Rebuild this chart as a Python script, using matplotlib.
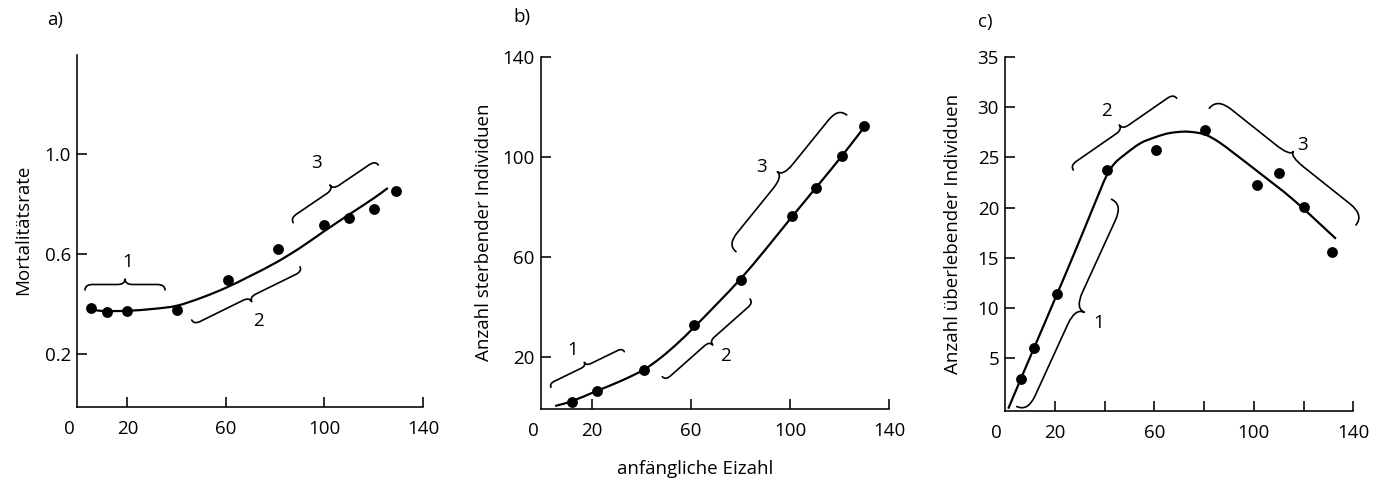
import numpy as np
import matplotlib
matplotlib.use('Agg')
import matplotlib.pyplot as plt
from matplotlib.path import Path
from matplotlib.patches import PathPatch
from matplotlib.transforms import Affine2D, ScaledTranslation

plt.rcParams['font.family'] = ['Open Sans', 'DejaVu Sans']

# ---------------- data ----------------
# a) mortality rate vs. initial egg number
eggs_a = [5.3, 11.5, 19.8, 40.0, 60.9, 81.3, 100.0, 110.1, 120.0, 129.0]
mort_a = [0.384, 0.369, 0.373, 0.375, 0.497, 0.620, 0.716, 0.742, 0.780, 0.852]
fit_a_x = [4.3, 10, 20, 30, 40, 50, 60, 70, 80, 90, 100, 110, 120, 125.7]
fit_a_y = [0.381, 0.372, 0.373, 0.380, 0.393, 0.425, 0.465, 0.513, 0.564,
           0.624, 0.692, 0.758, 0.823, 0.864]

# b) number of dying individuals
eggs_b = [12.0, 22.2, 41.1, 61.3, 80.2, 100.6, 110.5, 120.8, 130.0]
dead_b = [2.3, 6.6, 14.9, 33.1, 51.0, 76.6, 87.8, 100.4, 112.5]
fit_b_x = [5.3, 12, 22, 32, 41, 48, 55, 61.3, 70, 80.2, 90, 100.6, 110.5,
           120.8, 130]
fit_b_y = [0.5, 2.4, 6.5, 10.6, 15.0, 19.9, 25.9, 32.0, 40.8, 51.5, 63.0,
           76.0, 87.9, 100.4, 112.2]

# c) number of surviving individuals
eggs_c = [6.2, 11.7, 20.9, 41.0, 60.8, 80.5, 101.1, 110.3, 120.3, 131.3]
surv_c = [2.96, 6.06, 11.45, 23.7, 25.7, 27.7, 22.2, 23.47, 20.1, 15.6]
fit_c_x = [1.2, 6.3, 11.6, 21, 28, 34, 38, 41, 44, 47.7, 54.4, 61, 66, 72,
           77, 81, 86, 92, 102.5, 116, 133]
fit_c_y = [0.0, 3.0, 6.06, 11.5, 15.6, 19.2, 21.6, 23.3, 24.4, 25.2, 26.4,
           27.05, 27.4, 27.55, 27.45, 27.2, 26.5, 25.4, 23.4, 20.75, 16.9]

xticks_a = [0, 20, 60, 100, 140]
xticks_b = [0, 20, 60, 100, 140]
xticks_c = [0, 20, 40, 60, 80, 100, 120, 140]
xticklabels_c = ['0', '20', '', '60', '', '100', '', '140']
yticks_a = [0.2, 0.6, 1.0]
yticklabels_a = ['0.2', '0.6', '1.0']
yticks_b = [20, 60, 100, 140]
yticks_c = [5, 10, 15, 20, 25, 30, 35]

ylabel_a = 'Mortalitätsrate'
ylabel_b = 'Anzahl sterbender Individuen'
ylabel_c = 'Anzahl überlebender Individuen'
xlabel = 'anfängliche Eizahl'

# ---------------- figure ----------------
W, H = 1376, 479
fig = plt.figure(figsize=(W / 100, H / 100), dpi=100)
pix = Affine2D().scale(1 / W, -1 / H).translate(0, 1) + fig.transFigure

FS = 13.5
LW_AX = 1.15


def add_axes(left, bottom, right, top):
    return fig.add_axes([left / W, 1 - bottom / H, (right - left) / W,
                         (bottom - top) / H])


def style(ax, xt, yt, xl=None, yl=None):
    for s in ('top', 'right'):
        ax.spines[s].set_visible(False)
    for s in ('left', 'bottom'):
        ax.spines[s].set_linewidth(LW_AX)
    ax.set_xticks(xt)
    ax.set_yticks(yt)
    xl = xl if xl is not None else [str(v) for v in xt]
    ax.set_xticklabels(xl)
    if yl is not None:
        ax.set_yticklabels(yl)
    ax.tick_params(direction='in', length=7, width=LW_AX, labelsize=FS)
    ax.tick_params(axis='x', pad=9.5)
    ax.tick_params(axis='y', pad=4.5)
    ticks = ax.xaxis.get_major_ticks()
    for t, v in zip(ticks, xt):
        if v == 0:
            t.tick1line.set_visible(False)
            lab = t.label1
            lab.set_transform(lab.get_transform() +
                              ScaledTranslation(-8.5 / 100, 0,
                                                fig.dpi_scale_trans))


def smooth_curve(ax, xs, ys, lw=1.6):
    """Draw a smooth (Catmull-Rom) line through the given curve points."""
    P = np.column_stack([xs, ys]).astype(float)
    n = len(P)
    verts = [tuple(P[0])]
    codes = [Path.MOVETO]
    for i in range(n - 1):
        p0 = P[i - 1] if i > 0 else P[i]
        p1, p2 = P[i], P[i + 1]
        p3 = P[i + 2] if i + 2 < n else P[i + 1]
        c1 = p1 + (p2 - p0) / 6.0
        c2 = p2 - (p3 - p1) / 6.0
        verts += [tuple(c1), tuple(c2), tuple(p2)]
        codes += [Path.CURVE4] * 3
    ax.add_patch(PathPatch(Path(verts, codes), fill=False, lw=lw,
                           edgecolor='black', capstyle='butt',
                           clip_on=False, zorder=2))


ax_a = add_axes(77, 407, 423, 55)
ax_b = add_axes(540.7, 409, 889.3, 57.3)
ax_c = add_axes(1005.3, 410.7, 1353.3, 56.7)

ax_a.set_xlim(-0.5, 140)
ax_a.set_ylim(-0.012, 1.396)
ax_b.set_xlim(-0.5, 140)
ax_b.set_ylim(-0.7, 140)
ax_c.set_xlim(0.0, 140)
ax_c.set_ylim(-0.2, 35)

for ax, fx, fy, ex, ey in ((ax_a, fit_a_x, fit_a_y, eggs_a, mort_a),
                           (ax_b, fit_b_x, fit_b_y, eggs_b, dead_b),
                           (ax_c, fit_c_x, fit_c_y, eggs_c, surv_c)):
    smooth_curve(ax, fx, fy)
    ax.plot(ex, ey, 'o', color='black', ms=7.8, mew=0, clip_on=False,
            zorder=3)

style(ax_a, xticks_a, yticks_a, yl=yticklabels_a)
style(ax_b, xticks_b, yticks_b)
style(ax_c, xticks_c, yticks_c, xl=xticklabels_c)

# ---------------- texts ----------------
fig.text(23, 230, ylabel_a, transform=pix, rotation=90, ha='center',
         va='center', fontsize=FS)
fig.text(484, 232, ylabel_b, transform=pix, rotation=90, ha='center',
         va='center', fontsize=FS)
fig.text(953, 233.5, ylabel_c, transform=pix, rotation=90, ha='center',
         va='center', fontsize=FS)
fig.text(695, 474, xlabel, transform=pix, ha='center', va='baseline',
         fontsize=FS)
fig.text(47, 20, 'a)', transform=pix, ha='left', va='center', fontsize=FS)
fig.text(513, 17, 'b)', transform=pix, ha='left', va='center', fontsize=FS)
fig.text(978, 22, 'c)', transform=pix, ha='left', va='center', fontsize=FS)


# ---------------- braces ----------------
def brace(p0, p1, tip, frac=0.5, lw=1.2):
    p0, p1, t = np.array(p0, float), np.array(p1, float), np.array(tip, float)
    L = np.linalg.norm(p1 - p0)
    u = (p1 - p0) / L
    nrm = np.array([-u[1], u[0]])
    if np.dot(t - p0, nrm) < 0:
        nrm = -nrm
    h = np.dot(t - p0, nrm)
    a = np.dot(t - p0, u)
    m = frac * h
    r = min(1.4 * m, 0.18 * L)
    loc = [(0, 0), (0, m), (r, m), (a - r, m), (a, m), (a, h),
           (a, m), (a + r, m), (L - r, m), (L, m), (L, 0)]
    codes = [Path.MOVETO, Path.CURVE3, Path.CURVE3, Path.LINETO,
             Path.CURVE3, Path.CURVE3, Path.CURVE3, Path.CURVE3,
             Path.LINETO, Path.CURVE3, Path.CURVE3]
    verts = [tuple(p0 + x * u + y * nrm) for x, y in loc]
    fig.add_artist(PathPatch(Path(verts, codes), fill=False, lw=lw,
                             edgecolor='black', transform=pix,
                             capstyle='round', joinstyle='round'))


brace((85, 290), (165, 290), (125, 279))
brace((191.7, 320), (300, 266.7), (251.7, 301.7))
brace((293.3, 222.7), (378.3, 165), (330, 185))
brace((551, 387.3), (624.3, 351.7), (584.3, 362.3))
brace((662.3, 376.7), (750, 299), (712.7, 345))
brace((736, 251.7), (846.7, 115), (777.3, 171.7), frac=0.6)
brace((1016.7, 406.5), (1111.5, 199.3), (1084.3, 312.3), frac=0.55)
brace((1073.3, 170), (1176.7, 98.3), (1119.3, 125))
brace((1209.3, 108.3), (1356, 225), (1293.3, 151.7), frac=0.7)

for (x, y, s) in ((127.7, 261.7, '1'), (258.3, 320.7, '2'), (316.7, 163.3, '3'),
                  (572.5, 350, '1'), (725, 355.7, '2'), (761.7, 167.5, '3'),
                  (1099, 322.7, '1'), (1106.7, 111, '2'), (1303, 145, '3')):
    fig.text(x, y, s, transform=pix, ha='center', va='center', fontsize=FS)

fig.savefig('out.png', dpi=100, facecolor='white')
